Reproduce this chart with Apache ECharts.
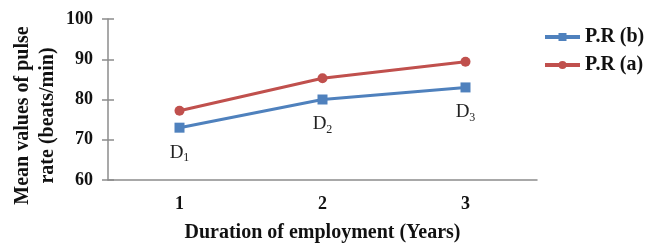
<!DOCTYPE html>
<html><head><meta charset="utf-8">
<script src="https://cdn.jsdelivr.net/npm/echarts@6/dist/echarts.min.js"></script>
<style>html,body{margin:0;padding:0;background:#fff}#c{width:653px;height:246px}</style>
</head><body><div id="c"></div>
<script>
const categories = ['1', '2', '3'];
const prB = [73, 80, 83];
const prA = [77.2, 85.3, 89.4];
const pointLabels = ['1', '2', '3'];
const yTicks = [60, 70, 80, 90, 100];

const serif = '"Liberation Serif", "DejaVu Serif", serif';
const axisColor = '#8c8c8c';
const chart = echarts.init(document.getElementById('c'));
chart.setOption({
  animation: false,
  textStyle: { fontFamily: serif },
  grid: { left: 108, right: 116, top: 19, bottom: 66, containLabel: false, outerBoundsMode: 'none' },
  legend: {
    orient: 'vertical', left: 538, top: 22, itemWidth: 35, itemHeight: 10, itemGap: 8,
    lineStyle: { width: 4 },
    textStyle: { fontFamily: serif, fontWeight: 'bold', fontSize: 20, color: '#111' },
    data: ['P.R (b)', 'P.R (a)']
  },
  xAxis: [{
    type: 'category', data: categories, boundaryGap: true,
    axisLine: { lineStyle: { color: axisColor, width: 1.5 } },
    axisTick: { length: 6, lineStyle: { color: axisColor, width: 1.5 } },
    axisLabel: { fontFamily: serif, fontWeight: 'bold', fontSize: 18, color: '#111', margin: 15 },
    name: 'Duration of employment (Years)', nameLocation: 'middle', nameGap: 43,
    nameTextStyle: { fontFamily: serif, fontWeight: 'bold', fontSize: 20, color: '#111' }
  }, {
    type: 'category', data: categories, boundaryGap: true, position: 'bottom',
    axisLine: { show: false },
    axisTick: { inside: true, length: 6, lineStyle: { color: axisColor, width: 1.5 } },
    axisLabel: { show: false }
  }],
  yAxis: [{
    type: 'value', min: yTicks[0], max: yTicks[yTicks.length - 1], interval: 10,
    splitLine: { show: false },
    axisLine: { show: true, lineStyle: { color: axisColor, width: 1.5 } },
    axisTick: { show: true, length: 6, lineStyle: { color: axisColor, width: 1.5 } },
    axisLabel: { fontFamily: serif, fontWeight: 'bold', fontSize: 18, color: '#111', margin: 15 },
    name: 'Mean values of pulse\nrate (beats/min)', nameLocation: 'middle', nameGap: 48, nameMoveOverlap: false,
    nameTextStyle: { fontFamily: serif, fontWeight: 'bold', fontSize: 20, color: '#111', lineHeight: 25, padding: [0, 32, 0, 0] }
  }, {
    type: 'value', min: yTicks[0], max: yTicks[yTicks.length - 1], interval: 10, position: 'left',
    splitLine: { show: false }, axisLine: { show: false },
    axisTick: { show: true, inside: true, length: 6, lineStyle: { color: axisColor, width: 1.5 } },
    axisLabel: { show: false }
  }],
  series: [{
    name: 'P.R (b)', type: 'line', data: prB, symbol: 'rect', symbolSize: 10,
    itemStyle: { color: '#4f81bd' }, lineStyle: { width: 3, color: '#4f81bd' },
    label: {
      show: true, position: 'bottom', distance: 9,
      formatter: p => '{d|D}{s|' + pointLabels[p.dataIndex] + '}',
      rich: {
        d: { fontFamily: serif, fontSize: 19, color: '#222' },
        s: { fontFamily: serif, fontSize: 12, color: '#222', verticalAlign: 'bottom', padding: [10, 0, 0, 0] }
      }
    }
  }, {
    name: 'P.R (a)', type: 'line', data: prA, symbol: 'circle', symbolSize: 10,
    itemStyle: { color: '#c0504d' }, lineStyle: { width: 3, color: '#c0504d' }
  }]
});
</script></body></html>
